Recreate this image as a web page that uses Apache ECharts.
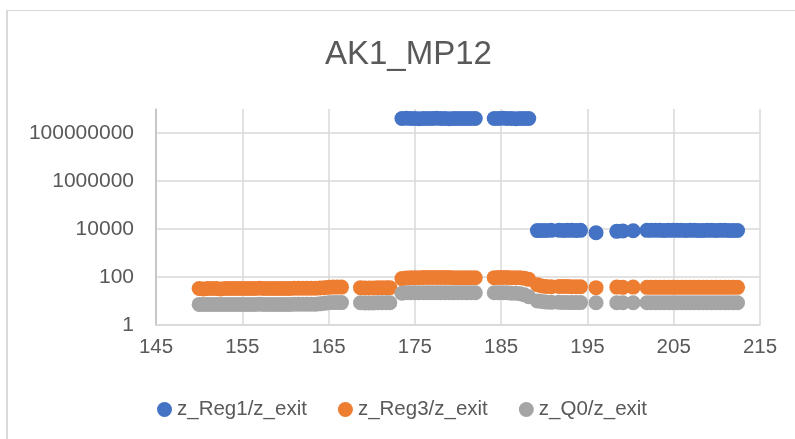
<!DOCTYPE html>
<html>
<head>
<meta charset="utf-8">
<script src="https://cdn.jsdelivr.net/npm/echarts@6/dist/echarts.min.js"></script>
<style>
html,body{margin:0;padding:0;background:#fff;}
#frame{position:absolute;left:6px;top:10px;width:900px;height:500px;border-left:2px solid #D9D9D9;border-top:1px solid #D9D9D9;box-sizing:border-box;}
#chart{position:absolute;left:0;top:0;width:795px;height:439px;}
</style>
</head>
<body>
<div id="frame"></div>
<div id="chart"></div>
<script>
const title = 'AK1_MP12';
const seriesNames = ['z_Reg1/z_exit', 'z_Reg3/z_exit', 'z_Q0/z_exit'];
const xTicks = [145, 155, 165, 175, 185, 195, 205, 215];
const yTicks = [1, 100, 10000, 1000000, 100000000];

const xValues = [
  150,150.5,151,151.5,152,152.5,153,153.5,154,154.5,155,155.5,156,156.5,157,157.5,158,158.5,
  159,159.5,160,160.5,161,161.5,162,162.5,163,163.5,164,164.5,165,165.5,166,166.5,
  168.7,169.2,169.7,170.2,170.7,171.2,171.7,172.1,
  173.5,174,174.5,175,175.5,176,176.5,177,177.5,178,178.5,179,179.5,180,180.5,181,181.5,182,
  184.2,184.7,185.2,185.7,186.2,186.7,187.2,187.7,188.2,
  189.2,189.7,190.2,190.8,191.7,192.2,192.7,193.2,193.7,194.2,
  196,198.4,199.1,200.3,
  201.9,202.4,202.9,203.4,203.9,204.4,204.9,205.4,205.9,206.4,206.9,207.4,207.9,208.4,208.9,
  209.4,209.9,210.4,210.9,211.4,211.9,212.4
];
const reg1Values = [
  null,null,null,null,null,null,null,null,null,null,null,null,null,null,null,null,null,null,
  null,null,null,null,null,null,null,null,null,null,null,null,null,null,null,null,
  null,null,null,null,null,null,null,null,
  4.0e8,4.1e8,4.0e8,4.0e8,3.9e8,4.0e8,4.0e8,4.0e8,4.1e8,4.0e8,4.0e8,3.9e8,4.0e8,4.0e8,4.0e8,4.0e8,4.0e8,4.0e8,
  4.0e8,4.0e8,4.1e8,4.0e8,4.0e8,3.9e8,4.0e8,4.0e8,4.0e8,
  8600,8700,8700,8800,8900,8700,8800,8800,8700,8800,
  7000,8000,8300,8400,
  8800,8800,8900,8800,8700,8800,8800,8800,8800,8700,8800,8800,8700,8700,8800,
  8800,8700,8800,8800,8700,8700,8700
];
const reg3Values = [
  33,32,33,33,33,32,33,33,33,33,33,33,33,33,34,33,33,33,
  33,33,33,33,34,34,34,34,34,34,35,36,37,38,38,38,
  36,35,35,35,36,36,36,36,
  86,90,92,94,94,95,95,95,95,95,95,95,94,94,94,93,93,93,
  94,95,95,95,94,94,93,88,80,
  48,42,40,39,40,40,40,39,39,39,
  36,38,37,38,
  37,37,37,37,37,37,37,37,37,37,37,37,37,37,37,
  37,37,37,37,37,37,37
];
const q0Values = [
  7.2,7.1,7.2,7.2,7.2,7.1,7.2,7.2,7.2,7.2,7.2,7.2,7.2,7.2,7.3,7.2,7.2,7.2,
  7.2,7.2,7.2,7.2,7.3,7.3,7.4,7.4,7.4,7.4,7.6,8.0,8.4,8.6,8.6,8.6,
  8.4,8.3,8.3,8.3,8.4,8.4,8.4,8.4,
  21,22,22,22,22,22,22,22,22,22,22,22,22,22,22,22,22,22,
  22,22,22,22,21,21,20,18,15,
  10,9.5,9,8.8,8.8,8.7,8.7,8.6,8.6,8.6,
  8.4,8.4,8.5,8.5,
  8.4,8.4,8.4,8.4,8.4,8.4,8.4,8.4,8.4,8.4,8.4,8.4,8.4,8.4,8.4,
  8.4,8.4,8.4,8.4,8.4,8.4,8.4
];
const colors = ['#4472C4', '#ED7D31', '#A5A5A5'];

function pairs(ys) {
  const out = [];
  for (let i = 0; i < xValues.length; i++) {
    if (ys[i] != null) out.push([xValues[i], ys[i]]);
  }
  return out;
}

const chart = echarts.init(document.getElementById('chart'), null, {renderer: 'canvas'});
const txt = '#595959';
const font = 'Liberation Sans';
chart.setOption({
  animation: false,
  backgroundColor: 'transparent',
  color: colors,
  title: {
    text: title,
    left: 320,
    top: 33,
    textStyle: {fontFamily: font, fontSize: 33, fontWeight: 'normal', color: txt}
  },
  legend: {
    bottom: 14,
    left: 152,
    itemWidth: 15,
    itemHeight: 15,
    itemGap: 31,
    icon: 'circle',
    textStyle: {fontFamily: font, fontSize: 20.5, color: txt},
    data: seriesNames
  },
  grid: {left: 156, right: 35, top: 109, bottom: 114, containLabel: false},
  xAxis: {
    type: 'value',
    min: xTicks[0],
    max: xTicks[xTicks.length - 1],
    interval: 10,
    axisLine: {show: true, onZero: false, lineStyle: {color: '#D9D9D9', width: 1.5}},
    axisTick: {show: false},
    splitLine: {show: true, lineStyle: {color: '#D9D9D9', width: 1.5}},
    axisLabel: {fontFamily: font, fontSize: 20.5, color: txt, margin: 12}
  },
  yAxis: {
    type: 'log',
    logBase: 100,
    min: yTicks[0],
    max: 1e9,
    axisLine: {show: true, lineStyle: {color: '#BFBFBF', width: 1.5}},
    axisTick: {show: false},
    splitLine: {show: true, showMaxLine: false, lineStyle: {color: '#D9D9D9', width: 1.5}},
    axisLabel: {
      fontFamily: font, fontSize: 21, color: txt, margin: 22,
      showMaxLabel: false,
      formatter: function (v) { return String(Math.round(v)); }
    }
  },
  series: [
    {name: seriesNames[0], type: 'scatter', symbolSize: 15, data: pairs(reg1Values), itemStyle: {color: colors[0], opacity: 1}},
    {name: seriesNames[1], type: 'scatter', symbolSize: 15, data: pairs(reg3Values), itemStyle: {color: colors[1], opacity: 1}},
    {name: seriesNames[2], type: 'scatter', symbolSize: 15, data: pairs(q0Values), itemStyle: {color: colors[2], opacity: 1}}
  ]
});
</script>
</body>
</html>
